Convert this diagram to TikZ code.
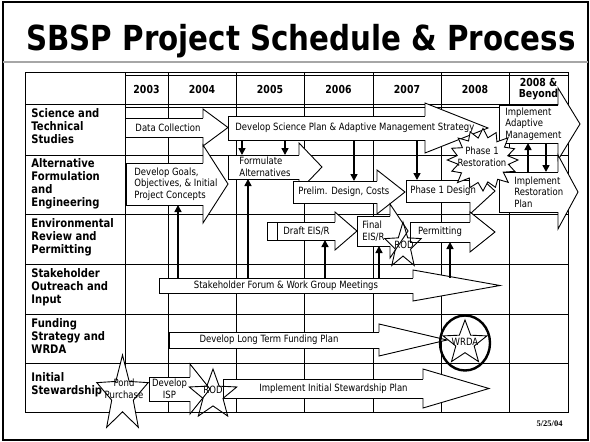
\documentclass[tikz,border=0pt]{standalone}
\usepackage{fontspec}
\setmainfont{DejaVu Sans}[FakeStretch=0.85]
\newfontfamily\datefont{Liberation Serif}
\usetikzlibrary{arrows.meta}
\usetikzlibrary{calc}

\tikzset{
  rowlbl/.style={anchor=north west, align=left, inner sep=0pt, font=\fontsize{11.8}{13}\selectfont\bfseries},
  yearlbl/.style={align=center, inner sep=0pt, font=\fontsize{11}{11.5}\selectfont\bfseries},
  abody/.style={fill=white, inner sep=0pt, outer sep=0pt, anchor=north west},
  atxt/.style={align=left, inner sep=0pt, font=\fontsize{10}{11.5}\selectfont},
  conn/.style={line width=1.6pt, -{Triangle[length=7pt,width=7pt]}}
}

% block arrow: name, top left corner, width, height, head extension, head length
\newcommand{\blockarrow}[6]{%
  \node[abody, minimum width=#3, minimum height=#4] (#1) at (#2) {};
  \draw[fill=white] (#1.north east) -- ++(0,-#5) -- ($(#1.east)+(#6,0)$)
    -- ($(#1.south east)+(0,#5)$) -- (#1.south east);
  \draw (#1.north east) -- (#1.north west) -- (#1.south west) -- (#1.south east);
}

% five pointed star: centre, x radius, y radius, options
\newcommand{\fivestar}[4]{%
  \draw[#4] ($(#1)+(-90:#2 and #3)$)
    \foreach \k in {1,...,9}{ -- ($(#1)+({-90+36*\k}:{#2*(1-0.58*mod(\k,2))} and {#3*(1-0.58*mod(\k,2))})$)} -- cycle;
}

\begin{document}
\begin{tikzpicture}[x=1pt, y=-1pt, line width=0.9pt]
\useasboundingbox (0,0) rectangle (590,442);

% frame and title
\draw[line width=2.6pt] (3,2) rectangle (588,440);
\draw[gray!70, line width=1.6pt] (3,62) -- (588,62);
\node[anchor=base, inner sep=0pt, font=\fontsize{34.5}{36}\selectfont\bfseries] (title) at (301,50) {SBSP Project Schedule \& Process};

% table
\draw (25,72) rectangle (568,412);
\foreach \x in {125,168,236,304,373,441,509}
  \draw (\x,72) -- (\x,412);
\foreach \y in {104,155,214,264,314,363}
  \draw (25,\y) -- (568,\y);
\draw (125,75) -- (568,75) (125,107) -- (568,107);

% years
\node[yearlbl] (y03) at (146.5,89) {2003};
\node[yearlbl] (y04) at (202,89) {2004};
\node[yearlbl] (y05) at (270,89) {2005};
\node[yearlbl] (y06) at (338.5,89) {2006};
\node[yearlbl] (y07) at (407,89) {2007};
\node[yearlbl] (y08) at (475,89) {2008};
\node[yearlbl] (ybey) at (538.5,89) {2008 \&\\Beyond};

% row labels
\node[rowlbl] (sts) at (31,108) {Science and\\Technical\\Studies};
\node[rowlbl] (afe) at (31,158) {Alternative\\Formulation\\and\\Engineering};
\node[rowlbl] (erp) at (31,218) {Environmental\\Review and\\Permitting};
\node[rowlbl] (soi) at (31,268) {Stakeholder\\Outreach and\\Input};
\node[rowlbl] (fsw) at (31,318) {Funding\\Strategy and\\WRDA};
\node[rowlbl] (ist) at (31,372) {Initial\\Stewardship};

% process arrows
\blockarrow{dcol}{125,118}{78}{19}{9}{25}
\node[atxt] (dcoltxt) at ([xshift=4]dcol.center) {Data Collection};

\blockarrow{goals}{126,163}{77}{42}{18}{25}
\node[atxt, anchor=west] (goalstxt) at ([xshift=8]goals.west) {Develop Goals,\\Objectives, \& Initial\\Project Concepts};

\blockarrow{sci}{228,116}{197}{24}{13}{63}
\node[atxt, anchor=west] (scitxt) at ([xshift=7]sci.west) {Develop Science Plan \& Adaptive Management Strategy};

\blockarrow{form}{228,155}{71}{24}{12}{23}
\node[atxt, anchor=west] (formtxt) at ([xshift=11]form.west) {Formulate\\Alternatives};

\blockarrow{prel}{293,181}{84}{22}{11}{28}
\node[atxt, anchor=west] (preltxt) at ([xshift=5]prel.west) {Prelim. Design, Costs};

\blockarrow{pdes}{406,180}{64}{22}{12}{25}
\node[atxt, anchor=west] (pdestxt) at ([xshift=4]pdes.west) {Phase 1 Design};

\blockarrow{deis}{267,222}{68}{18}{10}{22}
\draw ([xshift=10]deis.north west) -- ([xshift=10]deis.south west);
\node[atxt, anchor=west] (deistxt) at ([xshift=16]deis.west) {Draft EIS/R};

\blockarrow{feis}{357,216}{33}{30}{12}{18}
\node[atxt, anchor=west] (feistxt) at ([xshift=5]feis.west) {Final\\EIS/R};

\blockarrow{perm}{410,222}{60}{20}{10}{25}
\node[atxt] (permtxt) at (perm.center) {Permitting};

\blockarrow{shf}{159,278}{254}{15}{8}{87}
\node[atxt] (shftxt) at (shf.center) {Stakeholder Forum \& Work Group Meetings};

\blockarrow{fund}{169,332}{210}{16}{8}{68}
\node[atxt] (fundtxt) at ([xshift=-5]fund.center) {Develop Long Term Funding Plan};

\blockarrow{isp}{149,377}{41}{24}{13}{20}
\node[atxt, align=center] (isptxt) at (isp.center) {Develop\\ISP};

\blockarrow{iisp}{223,379}{200}{19}{10}{66}
\node[atxt, anchor=west] (iisptxt) at ([xshift=36]iisp.west) {Implement Initial Stewardship Plan};

\blockarrow{adap}{499,105}{59}{38}{17}{22}
\node[atxt, anchor=west] (adaptxt) at ([xshift=6]adap.west) {Implement\\Adaptive\\Management};

\blockarrow{rest}{499,172}{59}{40}{17}{20}
\node[atxt, anchor=west] (resttxt) at ([xshift=15]rest.west) {Implement\\Restoration\\Plan};

% milestones
\coordinate (p1c) at (483,160);
\draw[fill=white] ($(p1c)+(0:35 and 31)$)
  \foreach \a/\r in {11/0.74,22/0.98,34/0.7,45/1.02,56/0.75,68/0.95,79/0.72,90/1,101/0.74,113/0.97,124/0.7,135/1.03,146/0.74,158/0.96,169/0.72,180/1.02,191/0.75,203/0.97,214/0.71,225/1,236/0.74,248/0.98,259/0.72,270/1.02,281/0.73,293/0.96,304/0.71,315/1.01,326/0.74,338/0.97,349/0.72}
  { -- ($(p1c)+(\a:{\r*35} and {\r*31})$)} -- cycle;
\node[atxt, align=center] (p1r) at (482,157) {Phase 1\\Restoration};

\coordinate (pondc) at (122.5,395);
\fivestar{pondc}{27}{40}{fill=white}
\node[atxt, align=center] (pond) at (124,389) {Pond\\Purchase};

\coordinate (rodc) at (403,246);
\fivestar{rodc}{19}{24}{}
\node[atxt] (rod) at (404,245) {ROD};

\coordinate (rodic) at (213,395);
\fivestar{rodic}{25}{26}{}
\node[atxt] (rodi) at (213,390) {ROD};

\coordinate (wrdac) at (465,343);
\fivestar{wrdac}{23}{23}{}
\node[atxt] (wrda) at (465,342) {WRDA};
\draw[line width=2.4pt] (wrdac) ellipse [x radius=25, y radius=27.5];

% links
\draw[conn] ([xshift=14]sci.south west) -- ([xshift=14]sci.south west |- form.north);
\draw[conn] ([xshift=57]sci.south west) -- ([xshift=57]sci.south west |- form.north);
\draw[conn] ([xshift=126]sci.south west) -- ([xshift=126]sci.south west |- prel.north);
\draw[conn] ([xshift=189]sci.south west) -- ([xshift=189]sci.south west |- pdes.north);
\draw[conn] ([xshift=52]goals.south west |- shf.north) -- ([xshift=52]goals.south west);
\draw[conn] ([xshift=20]form.south west |- shf.north) -- ([xshift=20]form.south west);
\draw[conn] ([xshift=58]deis.south west |- shf.north) -- ([xshift=58]deis.south west);
\draw[conn] ([xshift=22]feis.south west |- shf.north) -- ([xshift=22]feis.south west);
\draw[conn] ([xshift=40]perm.south west |- shf.north) -- ([xshift=40]perm.south west);
\draw[conn] ([xshift=29]rest.north west) -- ([xshift=29]rest.north west |- adap.south);
\draw[conn] ([xshift=47]adap.south west) -- ([xshift=47]adap.south west |- rest.north);

\node[anchor=east, inner sep=0pt, font=\datefont\bfseries\fontsize{8.5}{9}\selectfont] (date) at (563,424) {5/25/04};
\end{tikzpicture}
\end{document}
